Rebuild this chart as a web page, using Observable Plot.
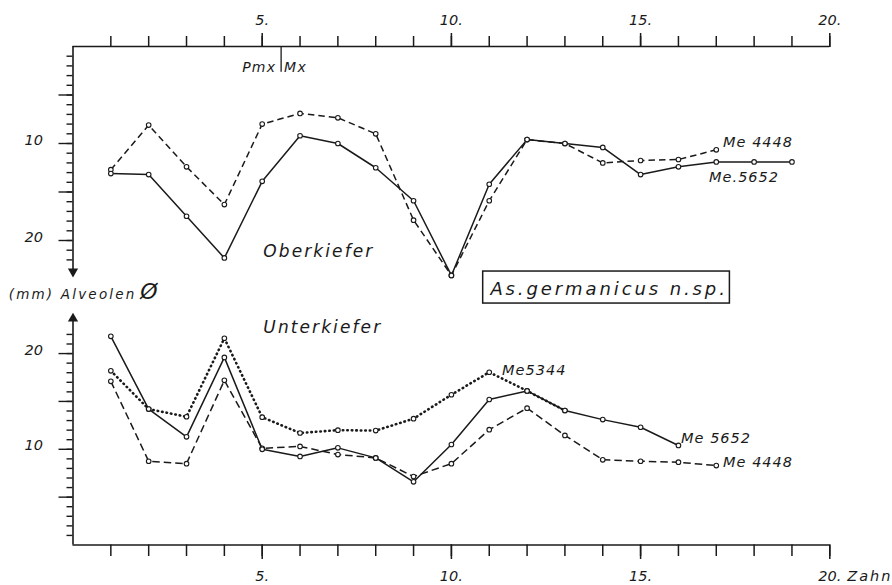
<!DOCTYPE html>
<html><head><meta charset="utf-8">
<script src="https://cdn.jsdelivr.net/npm/d3@7"></script>
<script src="https://cdn.jsdelivr.net/npm/@observablehq/plot@0.6"></script>
<style>
body{margin:0;background:#fff;}
#chart{width:892px;height:585px;overflow:hidden;}
#chart svg{display:block;}
</style></head><body><div id="chart"></div>
<script>
// ---- data (tooth position 1..20, alveolar diameter) ----
const upper5652 = [13.1,13.2,17.5,21.8,13.9,9.2,10.0,12.5,15.9,23.6,14.2,9.6,10.0,10.4,13.2,12.4,11.9,11.9,11.9];
const upper4448 = [12.7,8.1,12.4,16.3,8.0,6.9,7.35,9.0,17.9,23.6,15.9,9.6,10.0,12.0,11.75,11.65,10.65];
const lower5652 = [21.8,14.2,11.3,19.6,10.0,9.25,10.15,9.1,6.6,10.5,15.2,16.1,14.05,13.1,12.3,10.4];
const lower4448 = [17.1,8.75,8.5,17.2,10.1,10.3,9.45,9.1,7.15,8.5,12.05,14.3,11.45,8.9,8.75,8.65,8.3];
const lower5344 = [18.2,14.2,13.4,21.6,13.35,11.7,12.0,11.95,13.2,15.7,18.05,16.1,14.05];

const xTicks = d3.range(1, 21);
const xMajor = [5, 10, 15, 20];
const yTicks = d3.range(1, 23);
const yMajor = [5, 10, 15, 20];
const yLabels = [10, 20];

const upperSeriesLabels = [
  {x: 17.18, y: 10.31, text: "Me 4448"},
  {x: 16.81, y: 14.02, text: "Me.5652"}
];
const lowerSeriesLabels = [
  {x: 11.34, y: 17.71, text: "Me5344"},
  {x: 16.07, y: 10.61, text: "Me 5652"},
  {x: 17.18, y: 8.1, text: "Me 4448"}
];

// ---- helpers ----
const ink = "#1a1a1a";
const blank = () => "";
const toPts = arr => arr.map((v, i) => ({x: xTicks[i], y: v}));
const series = (arr, dash, width, cap) => [
  Plot.line(toPts(arr), {x: "x", y: "y", stroke: ink, strokeWidth: width, strokeDasharray: dash, strokeLinecap: cap || "butt"})
];
const circles = arr => Plot.dot(toPts(arr), {x: "x", y: "y", r: 2.3, fill: "white", stroke: ink, strokeWidth: 1.1});
const style = {fontFamily: "'DejaVu Sans', sans-serif", fontStyle: "italic", fontSize: "14px", color: ink, background: "white"};

const upper = Plot.plot({
  width: 892, height: 306,
  marginTop: 46, marginBottom: 17.5, marginLeft: 72.5, marginRight: 62.7,
  x: {domain: [0, 20]},
  y: {domain: [0, 25], reverse: true},
  style,
  marks: [
    Plot.ruleY([0], {stroke: ink, strokeWidth: 1.6}),
    Plot.ruleX([0], {y1: 0, y2: 23.2, stroke: ink, strokeWidth: 1.6}),
    Plot.dot([0], {x: 0, y: 23.2, symbol: "triangle", rotate: 180, r: 3.8, fill: ink, stroke: null}),
    Plot.axisX({anchor: "top", ticks: xTicks, tickSize: 11, tickFormat: blank, label: null, stroke: ink, strokeWidth: 1.5}),
    Plot.axisX({anchor: "top", ticks: xMajor, tickSize: 14, tickPadding: 8, tickFormat: d => d + ".", label: null, stroke: ink, strokeWidth: 1.5, fontSize: 14.5}),
    Plot.axisY({anchor: "left", ticks: yTicks, tickSize: 6, tickFormat: blank, label: null, stroke: ink, strokeWidth: 1.4}),
    Plot.axisY({anchor: "left", ticks: yMajor, tickSize: 14, tickFormat: blank, label: null, stroke: ink, strokeWidth: 1.4}),
    Plot.text(yLabels, {x: 0, y: d => d, text: d => String(d), textAnchor: "end", lineAnchor: "bottom", dx: -30, dy: 1, fontSize: 14.5, fill: ink}),
    // Pmx | Mx divider
    Plot.ruleX([5.5], {y1: 0, y2: 2.65, stroke: ink, strokeWidth: 1.3}),
    Plot.text(["Pmx"], {x: 5.5, y: 2.65, text: d => d, textAnchor: "end", lineAnchor: "bottom", dx: -5, fontSize: 14, fill: ink}),
    Plot.text(["Mx"], {x: 5.5, y: 2.65, text: d => d, textAnchor: "start", lineAnchor: "bottom", dx: 3, fontSize: 14, fill: ink}),
    // series
    ...series(upper4448, "6.5,4", 1.5),
    ...series(upper5652, null, 1.5),
    circles(upper4448),
    circles(upper5652),
    Plot.text(upperSeriesLabels, {x: "x", y: "y", text: "text", textAnchor: "start", lineAnchor: "bottom", fontSize: 14.5, fill: ink}),
    Plot.text(["Oberkiefer"], {x: 5.03, y: 21.75, text: d => d, textAnchor: "start", lineAnchor: "bottom", fontSize: 17, fill: ink}),
    Plot.text(["(mm) Alveolen"], {x: -1.70, y: 25.98, text: d => d, textAnchor: "start", lineAnchor: "bottom", fontSize: 13.5, fill: ink}),
    Plot.text(["Ø"], {x: 1.78, y: 26.0, text: d => d, textAnchor: "start", lineAnchor: "bottom", fontSize: 22, fill: ink}),
    Plot.rect([0], {x1: 10.84, x2: 17.36, y1: 23.2, y2: 26.5, fill: "white", stroke: ink, strokeWidth: 1.5}),
    Plot.text(["As.germanicus n.sp."], {x: 11.03, y: 25.57, text: d => d, textAnchor: "start", lineAnchor: "bottom", fontSize: 18, fill: ink})
  ]
});

const lower = Plot.plot({
  width: 892, height: 279,
  marginTop: 4, marginBottom: 40.5, marginLeft: 72.5, marginRight: 62.7,
  x: {domain: [0, 20]},
  y: {domain: [0, 24.5]},
  style,
  marks: [
    Plot.ruleY([0], {stroke: ink, strokeWidth: 1.6}),
    Plot.ruleX([0], {y1: 0, y2: 23.6, stroke: ink, strokeWidth: 1.6}),
    Plot.dot([0], {x: 0, y: 23.65, symbol: "triangle", r: 3.8, fill: ink, stroke: null}),
    Plot.axisX({anchor: "bottom", ticks: xTicks, tickSize: 11.5, tickFormat: blank, label: null, stroke: ink, strokeWidth: 1.5}),
    Plot.axisX({anchor: "bottom", ticks: xMajor, tickSize: 14.5, tickPadding: 11, tickFormat: d => d + ".", label: null, stroke: ink, strokeWidth: 1.5, fontSize: 14.5}),
    Plot.text(["Zahn"], {x: 20.46, y: -3.71, text: d => d, textAnchor: "start", lineAnchor: "bottom", fontSize: 14.5, fill: ink}),
    Plot.axisY({anchor: "left", ticks: yTicks, tickSize: 6, tickFormat: blank, label: null, stroke: ink, strokeWidth: 1.4}),
    Plot.axisY({anchor: "left", ticks: yMajor, tickSize: 14, tickFormat: blank, label: null, stroke: ink, strokeWidth: 1.4}),
    Plot.text(yLabels, {x: 0, y: d => d, text: d => String(d), textAnchor: "end", lineAnchor: "bottom", dx: -30, dy: 1, fontSize: 14.5, fill: ink}),
    // series
    ...series(lower5344, "0.5,4", 2.6, "round"),
    ...series(lower4448, "7.5,4", 1.5),
    ...series(lower5652, null, 1.5),
    circles(lower5344),
    circles(lower4448),
    circles(lower5652),
    Plot.text(lowerSeriesLabels, {x: "x", y: "y", text: "text", textAnchor: "start", lineAnchor: "bottom", fontSize: 14.5, fill: ink}),
    Plot.text(["Unterkiefer"], {x: 5.03, y: 22.1, text: d => d, textAnchor: "start", lineAnchor: "bottom", fontSize: 17, fill: ink})
  ]
});

const spacing = new Map([["Oberkiefer", 2.1], ["Unterkiefer", 2.1], ["As.germanicus n.sp.", 2.9], ["(mm) Alveolen", 2.2], ["Pmx", 1.2], ["Mx", 1.2], ["Zahn", 2]]);
for (const svg of [upper, lower]) {
  d3.select(svg).selectAll("text").each(function () {
    const t = this.textContent;
    if (spacing.has(t)) this.setAttribute("letter-spacing", spacing.get(t));
    else if (t.startsWith("Me")) this.setAttribute("letter-spacing", 1);
  });
}
document.getElementById("chart").append(upper, lower);
</script>
</body></html>
